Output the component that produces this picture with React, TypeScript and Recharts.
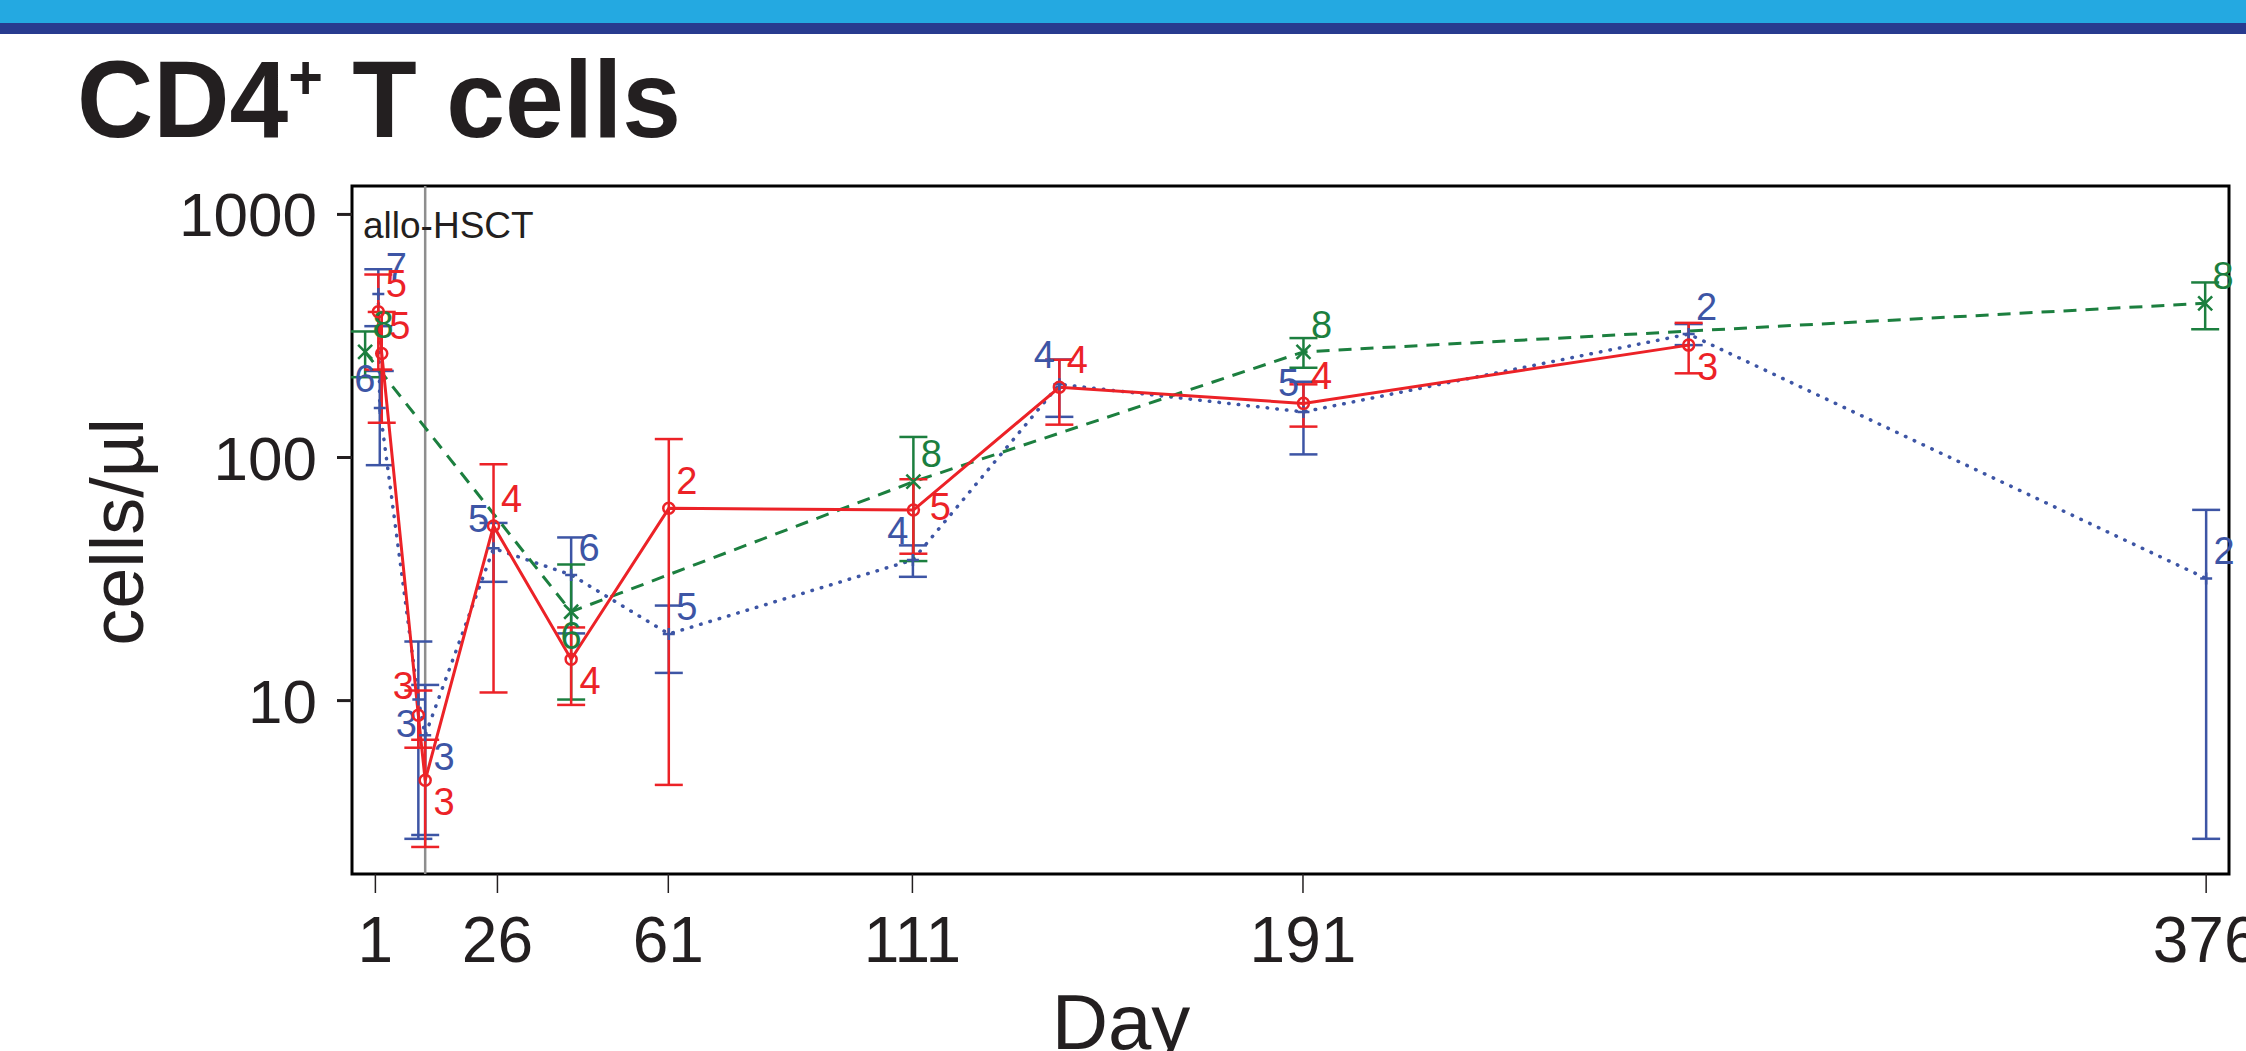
import React from "react";
import { ComposedChart, Line, XAxis, YAxis, ErrorBar, ReferenceLine, ReferenceArea } from "recharts";

// CD4+ T cell counts (mean ± SE, cells/µl) per group; days
const redDays = [1.6, 2.3, 9.8, 11.2, 25.2, 41.1, 61.1, 111.2, 141.1, 191.1, 270];
const redMean = [398, 268, 8.7, 4.7, 52.3, 14.8, 61.8, 60.8, 194.5, 167, 290];
const redSe = [168, 129, 2.3, 2.2, 41.5, 5.2, 57.3, 20.6, 58, 33, 68];
const redN = [5, 5, 3, 3, 4, 4, 2, 5, 4, 4, 3];

const blueDays = [1.6, 1.9, 9.8, 11.2, 25.2, 41.1, 61.1, 111.1, 141.1, 191.1, 270, 376];
const blueMean = [471, 160, 10.1, 7.2, 42.3, 32.9, 18.8, 37.9, 200, 154, 322, 31.8];
const blueSe = [124, 67, 7.4, 4.4, 11.5, 14, 5.8, 5.6, 53, 51, 32, 29.1];
const blueN = [7, 6, 3, 3, 5, 6, 5, 4, 4, 5, 2, 2];

const greenDays = [-1.1, 41.1, 111.2, 191.1, 375.8];
const greenMean = [272, 23.2, 79.5, 272, 431];
const greenSe = [58, 13.1, 42, 38, 94];
const greenN = [8, 6, 8, 8, 8];

const dayTicks = [1, 26, 61, 111, 191, 376];
const yTicks = [10, 100, 1000];
const hsctDay = 11.2;

// where each n label sits around its point (layout only)
const redLabelAt = ["ne", "ne", "nw", "se", "ne", "se", "ne", "e", "ne", "ne", "se"];
const blueLabelAt = ["ne", "nw", "sw", "se", "nw", "ne", "ne", "nw", "nw", "nw", "ne", "ne"];
const greenLabelAt = ["ne", "s", "ne", "ne", "ne"];
const OFFSET = { ne: [18, -28], nw: [-15, -30], se: [19, 21], sw: [-12, 24], e: [27, -4], s: [0, 24] };

const RED = "#EC2227";
const BLUE = "#3D55A5";
const GREEN = "#1C7F3F";
const INK = "#231F20";
const X_DOMAIN = [-3.79, 380.68];
const Y_DOMAIN = [1.935, 1309];

const toRows = (days, mean, se, n) => days.map((d, i) => ({ day: d, v: mean[i], se: se[i], n: n[i] }));

const redRows = toRows(redDays, redMean, redSe, redN);
const blueRows = toRows(blueDays, blueMean, blueSe, blueN);
const greenRows = toRows(greenDays, greenMean, greenSe, greenN);

function makeDot(color, kind, placeAt) {
  return (props) => {
    const { cx, cy, index, payload } = props;
    if (cx == null || cy == null) return <g key={`e-${index}`} />;
    const [dx, dy] = OFFSET[placeAt[index]] || [18, -28];
    let mark;
    if (kind === "circle") {
      mark = <circle cx={cx} cy={cy} r={5.5} fill="none" stroke={color} strokeWidth={2.5} />;
    } else if (kind === "cross") {
      mark = (
        <path
          d={`M${cx - 7},${cy - 7}L${cx + 7},${cy + 7}M${cx - 7},${cy + 7}L${cx + 7},${cy - 7}`}
          stroke={color}
          strokeWidth={2.5}
        />
      );
    } else {
      mark = <path d={`M${cx - 6},${cy}H${cx + 6}M${cx},${cy - 6}V${cy + 6}`} stroke={color} strokeWidth={2.5} />;
    }
    return (
      <g key={`d-${index}`}>
        {mark}
        <text x={cx + dx} y={cy + dy} dy="0.36em" textAnchor="middle" fontSize={38} fill={color}>
          {payload.n}
        </text>
      </g>
    );
  };
}

export default function App() {
  return (
    <div
      style={{
        position: "relative",
        width: 2246,
        height: 1051,
        overflow: "hidden",
        background: "#fff",
        fontFamily: "'Liberation Sans', Arial, Helvetica, sans-serif",
      }}
    >
      <style>{`body{margin:0}`}</style>
      <div style={{ position: "absolute", left: 0, top: 0, width: 2246, height: 23, background: "#24A9E1" }} />
      <div style={{ position: "absolute", left: 0, top: 23, width: 2246, height: 11, background: "#283B8F" }} />

      <ComposedChart width={2246} height={1051} margin={{ top: 186, right: 17, bottom: 0, left: 0 }}>
        <XAxis
          type="number"
          dataKey="day"
          domain={X_DOMAIN}
          ticks={dayTicks}
          interval={0}
          height={177}
          axisLine={false}
          tickSize={19}
          tickMargin={24}
          tickLine={{ stroke: INK, strokeWidth: 1.5 }}
          tick={{ fontSize: 64, fill: INK }}
        />
        <YAxis
          type="number"
          scale="log"
          domain={Y_DOMAIN}
          ticks={yTicks}
          interval={0}
          width={352}
          axisLine={false}
          tickSize={15}
          tickMargin={20}
          tickLine={{ stroke: INK, strokeWidth: 3 }}
          tick={{ fontSize: 62, fill: INK }}
        />
        <ReferenceArea
          x1={X_DOMAIN[0]}
          x2={X_DOMAIN[1]}
          y1={Y_DOMAIN[0]}
          y2={Y_DOMAIN[1]}
          fill="none"
          stroke="#000"
          strokeWidth={3}
          ifOverflow="visible"
        />
        <ReferenceLine x={hsctDay} stroke="#8E8E8E" strokeWidth={2.5} ifOverflow="visible" />

        <Line
          data={blueRows}
          dataKey="v"
          type="linear"
          stroke={BLUE}
          strokeWidth={3.5}
          strokeDasharray="0.5 9.2"
          strokeLinecap="round"
          dot={makeDot(BLUE, "plus", blueLabelAt)}
          activeDot={false}
          isAnimationActive={false}
        >
          <ErrorBar dataKey="se" direction="y" width={14} stroke={BLUE} strokeWidth={2.5} isAnimationActive={false} />
        </Line>
        <Line
          data={greenRows}
          dataKey="v"
          type="linear"
          stroke={GREEN}
          strokeWidth={3}
          strokeDasharray="13 9"
          dot={makeDot(GREEN, "cross", greenLabelAt)}
          activeDot={false}
          isAnimationActive={false}
        >
          <ErrorBar dataKey="se" direction="y" width={14} stroke={GREEN} strokeWidth={2.5} isAnimationActive={false} />
        </Line>
        <Line
          data={redRows}
          dataKey="v"
          type="linear"
          stroke={RED}
          strokeWidth={3}
          dot={makeDot(RED, "circle", redLabelAt)}
          activeDot={false}
          isAnimationActive={false}
        >
          <ErrorBar dataKey="se" direction="y" width={14} stroke={RED} strokeWidth={2.5} isAnimationActive={false} />
        </Line>
      </ComposedChart>

      <svg
        width={2246}
        height={1051}
        style={{ position: "absolute", left: 0, top: 0, pointerEvents: "none" }}
      >
        <text transform="translate(77,137) scale(0.96,1)" fontSize={110} fontWeight="bold" fill={INK}>
          CD4
          <tspan fontSize={62} dy={-38}>+</tspan>
          <tspan dy={38}>{" T cells"}</tspan>
        </text>
        <text transform="translate(143,532) rotate(-90)" textAnchor="middle" fontSize={74} fill={INK}>
          cells/µl
        </text>
        <text x={1121} y={1049} textAnchor="middle" fontSize={78} fill={INK}>
          Day
        </text>
        <text x={363} y={238} fontSize={37} fill={INK}>
          allo-HSCT
        </text>
      </svg>
    </div>
  );
}
